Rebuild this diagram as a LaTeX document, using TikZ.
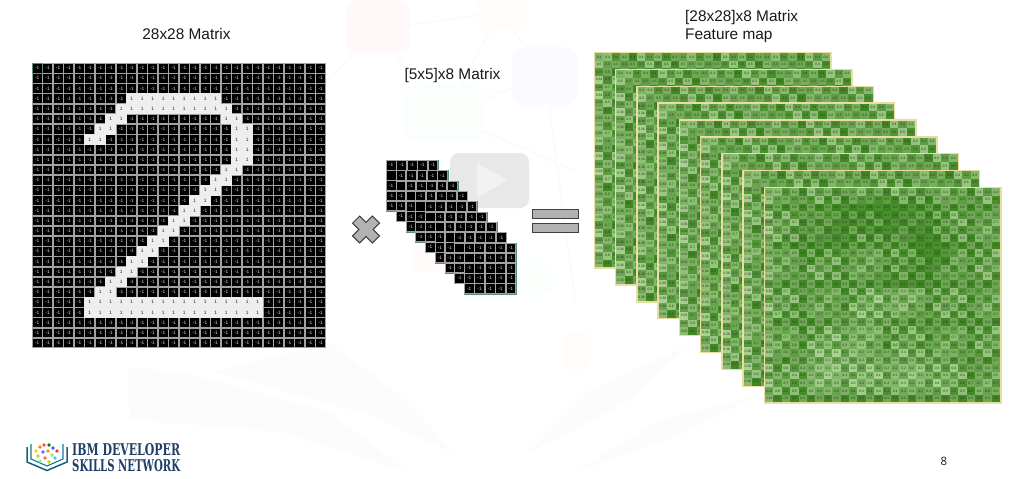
\documentclass[tikz,border=0pt]{standalone}
\usepackage{fontspec}
\setmainfont{Liberation Sans}
\newfontfamily\logofont{DejaVu Serif}[FakeStretch=0.72]
\newfontfamily\pagefont{Open Sans}
\usetikzlibrary{positioning}

\definecolor{gridgray}{HTML}{A2A2A2}
\definecolor{paper}{HTML}{EEEEEE}
\definecolor{kernelline}{HTML}{5E8F7E}
\definecolor{fdark}{HTML}{3C8420}
\definecolor{flight}{HTML}{B2D99A}
\definecolor{fframe}{HTML}{EADDA0}
\definecolor{navy}{HTML}{1F3F66}

\tikzset{
    title/.style={font=\fontsize{15.4}{18}\selectfont, inner sep=0pt, text=black!90},
    blackcell/.style={fill=black, draw=gridgray, line width=.7pt, minimum width=9.9pt, minimum height=9.6pt,
        inner sep=0pt, text=white!85!black, font=\fontsize{4.8}{5}\selectfont},
    whitecell/.style={blackcell, fill=paper, draw=paper, text=black!85},
    kernelcell/.style={blackcell, minimum width=9.7pt, minimum height=9.5pt},
    kernelframe/.style={fill=black, draw=kernelline, line width=1.1pt, minimum width=52pt, minimum height=51pt, anchor=north west, inner sep=0pt},
    fcell/.style={minimum width=8.4pt, minimum height=7.65pt, inner sep=0pt, outer sep=0pt,
        text=black!80, font=\fontsize{3.4}{3.4}\selectfont},
    fframestyle/.style={fill=fframe, minimum width=238pt, minimum height=217pt, anchor=north west, inner sep=0pt},
    symbol/.style={fill=black!30, draw=black!75, line width=1pt, inner sep=0pt},
    logotext/.style={inner sep=0pt, anchor=west, text=navy, font=\logofont\bfseries\fontsize{14}{15}\selectfont},
    faint/.style={rounded corners=11pt}
}

% mark the white cells of the digit, and count them around each cell
\newcommand{\markdigit}{%
    \foreach \r/\from/\to in {3/9/17,4/8/18,5/7/8,5/18/19,6/6/7,6/19/20,7/5/6,7/19/20,8/19/20,9/19/20,
        10/18/19,11/17/18,12/16/17,13/15/16,14/14/15,15/13/14,16/12/13,17/11/12,18/10/11,19/9/10,
        20/8/9,21/7/8,22/6/7,23/5/21,24/5/21}{
        \foreach \c in {\from,...,\to}{
            \expandafter\gdef\csname dgt-\r-\c\endcsname{}
            \foreach \dr in {-2,...,2}{
                \foreach \dc in {-2,...,2}{
                    \edef\keyname{blr-\the\numexpr\r+\dr\relax-\the\numexpr\c+\dc\relax}
                    \edef\newcount{\the\numexpr\ifcsname\keyname\endcsname\csname\keyname\endcsname\else0\fi+1\relax}
                    \expandafter\xdef\csname\keyname\endcsname{\newcount}
                }
            }
        }
    }
}
\newcommand{\fmaptext}{\ifnum\r=0 0.4\else\ifnum\r=1 0.5\else\ifnum\c=0 0.36\else 0.\fval\fi\fi\fi}

\begin{document}
\markdigit
\begin{tikzpicture}[x=1pt, y=-1pt]
    \useasboundingbox (0,0) rectangle (1023,479);

    % faint watermark behind everything
    \draw[black!1.5, line width=2pt] (375,30) -- (500,12) -- (545,75) -- (445,115) -- (375,30)
        (500,12) -- (445,115) (545,75) -- (575,300) (445,115) -- (573,170) (375,30) -- (320,90);
    \fill[faint, red!2.5] (345,0) rectangle (410,53);
    \fill[faint, orange!2.5] (478,-10) rectangle (527,28);
    \fill[faint, blue!1.5] (512,47) rectangle (577,105);
    \fill[faint, green!1.5] (405,85) rectangle (483,140);
    \fill[faint, green!1.5] (517,262) rectangle (553,295);
    \fill[faint, red!1.5] (412,240) rectangle (450,272);
    \fill[faint, orange!2.5] (562,331) rectangle (591,370);
    \fill[black!1] (127,367) -- (190,374) -- (330,412) -- (408,472) -- (280,432) -- (130,420) -- cycle;
    \fill[black!1] (328,342) -- (400,395) -- (455,454) -- (370,415) -- (215,372) -- cycle;
    \fill[black!1] (524,456) -- (590,390) -- (690,345) -- (630,400) -- cycle;
    \fill[black!1] (573,473) -- (660,420) -- (760,395) -- (680,435) -- cycle;

    % play button
    \fill[rounded corners=9pt, black!9] (450,153) rectangle (529,208);
    \fill[white!95!black, rounded corners=2pt] (477,163) -- (507,180) -- (477,198) -- cycle;

    % 28x28 matrix, the white cells go on top of the black ones
    \node[title] (inputtitle) at (186.5,34) {28x28 Matrix};
    \foreach \r in {0,...,27}{
        \foreach \c in {0,...,27}{
            \ifcsname dgt-\r-\c\endcsname\else
                \node[blackcell] (m-\r-\c) at ({37.25+10.5*\c},{68.1+10.18*\r}) {-1};
            \fi
        }
    }
    \foreach \r in {0,...,27}{
        \foreach \c in {0,...,27}{
            \ifcsname dgt-\r-\c\endcsname
                \node[whitecell] (m-\r-\c) at ({37.25+10.5*\c},{68.1+10.18*\r}) {1};
            \fi
        }
    }
    \draw[kernelline, line width=.9pt] (m-0-0.north west) rectangle (m-0-0.south east);

    % multiply and equals
    \draw[symbol, shift={(366,229.5)}, rotate=45] (-5,-14) -- (5,-14) -- (5,-5) -- (14,-5) -- (14,5) -- (5,5)
        -- (5,14) -- (-5,14) -- (-5,5) -- (-14,5) -- (-14,-5) -- (-5,-5) -- cycle;
    \node[symbol, minimum width=46pt, minimum height=9pt] (eqtop) at (555.5,214) {};
    \node[symbol, minimum width=46pt, minimum height=9pt, below=3.5pt of eqtop] (eqbottom) {};

    % 5x5 kernels
    \node[title] (kerneltitle) at (452.5,76) {[5x5]x8 Matrix};
    \foreach \k in {0,...,8}{
        \pgfmathsetmacro\kx{386+9.75*\k}
        \pgfmathsetmacro\ky{160+10.33*\k}
        \node[kernelframe] (kernel-\k) at (\kx,\ky) {};
        \foreach \r in {0,...,4}{
            \foreach \c in {0,...,4}{
                \node[kernelcell] (k\k-\r-\c) at ({\kx+5.2+10.4*\c},{\ky+5.1+10.2*\r}) {\ifnum\r=\c 1\else -1\fi};
            }
        }
    }

    % feature maps, only the visible strip of the ones at the back
    \node[title, align=left, anchor=north west] (fmaptitle) at (685,10.5) {[28x28]x8 Matrix\\Feature map};
    \foreach \k in {0,...,8}{
        \pgfmathsetmacro\fx{595+21.25*\k}
        \pgfmathsetmacro\fy{53+16.9*\k}
        \node[fframestyle] (fmap-\k) at (\fx-1.5,\fy-1.5) {};
        \foreach \r in {0,...,27}{
            \foreach \c in {0,...,27}{
                \pgfmathtruncatemacro\visible{(\k==8)||(\r<3)||(\c<3)}
                \ifnum\visible=1
                    \ifcsname blr-\r-\c\endcsname\edef\blur{\csname blr-\r-\c\endcsname}\else\def\blur{0}\fi
                    \ifnum\r>12 \def\wgt{-2}\else\def\wgt{3}\fi
                    \ifnum\k<8 \def\blur{0}\fi
                    \pgfmathtruncatemacro\shd{min(100,max(8,24+40*mod(\r+\c+1,2)+8*mod(\r*17+\c*31+\r*\c*7,5)+\wgt*\blur-(\c==0)*20))}
                    \pgfmathtruncatemacro\fval{max(1,min(8,6-\blur/3+mod(\r*5+\c*3,3)-1))}
                    \node[fcell, fill=fdark!\shd!flight] (f\k-\r-\c) at ({\fx+4.2+8.4*\c},{\fy+3.83+7.65*\r}) {\fmaptext};
                \fi
            }
        }
    }

    % logo
    \draw[navy!85!cyan, line width=1.5pt] (27,447) -- (27,462) -- (47,470.5) -- (67,462) -- (67,447);
    \draw[navy!70!cyan, line width=1.1pt] (31,444) -- (31,459) -- (47,466) -- (63,459) -- (63,444);
    \foreach \dx/\dy/\dotcol in {36/451/yellow!70!orange,40/447/orange,44/445/red!70,49/445/green!50!black,53/448/blue!70,
        57/451/red!80,38/456/yellow!80!black,43/452/blue!60,48/451/orange!90,52/455/green!60,45/458/red!60,40/461/green!50,
        55/458/cyan!70,49/462/yellow!70!green}{
        \fill[\dotcol] (\dx,\dy) circle (1.9);
    }
    \node[logotext] (logotop) at (72,450) {\resizebox{108pt}{12pt}{IBM DEVELOPER}};
    \node[logotext] (logobottom) at (72,466) {\resizebox{108pt}{12pt}{SKILLS NETWORK}};

    \node[inner sep=0pt, font=\pagefont\fontsize{11.5}{12}\selectfont, text=black!90] (pagenum) at (944,461.5) {8};
\end{tikzpicture}
\end{document}
